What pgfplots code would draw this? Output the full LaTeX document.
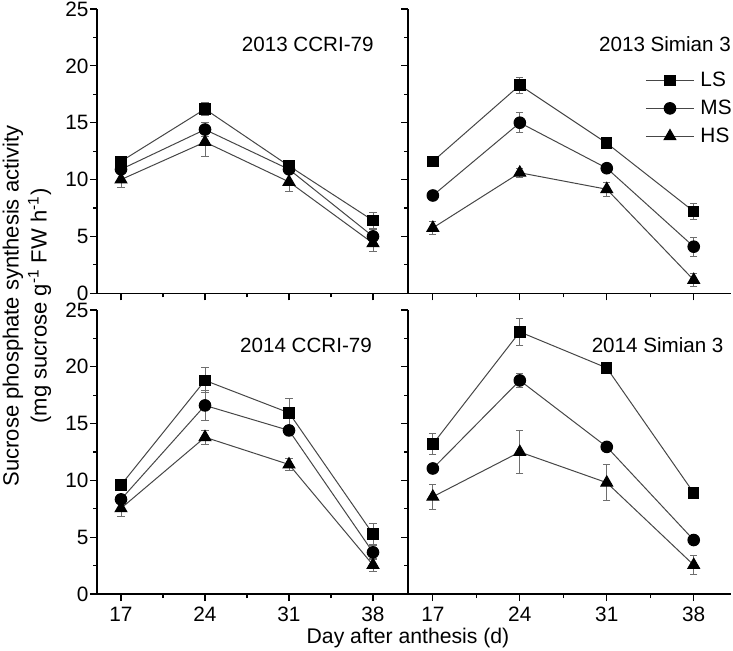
\documentclass[border=0pt]{standalone}
\usepackage{fontspec}
\setmainfont{Liberation Sans}
\usepackage{pgfplots}
\pgfplotsset{compat=1.18}

\definecolor{lnc}{RGB}{70,70,70}
\definecolor{ebc}{RGB}{110,110,110}

\pgfplotsset{
  panel/.style={
    scale only axis,
    xmin=15, xmax=41, ymin=0, ymax=25,
    axis x line=bottom, axis y line=left,
    axis line style={-, line width=0.7pt, black},
    tick align=outside,
    xtick={17,24,31,38}, minor xtick={20.5,27.5,34.5},
    ytick={0,5,10,15,20,25}, minor ytick={2.5,7.5,12.5,17.5,22.5},
    major tick length=3.5pt, minor tick length=2pt,
    every tick/.style={black, line width=0.6pt},
    tick label style={font=\fontsize{10.4}{12}\selectfont},
    /pgf/number format/assume math mode=true,
    yticklabel style={xshift=2.8pt},
    xticklabel style={yshift=0.5pt},
    clip=false,
    every axis plot/.append style={line width=0.5pt},
    legend image code/.code={\draw[mark repeat=2,mark phase=2] plot coordinates {(0pt,0pt)(12pt,0pt)(24pt,0pt)};},
  },
  ls/.style={lnc, mark=square*, mark size=2.6pt, mark options={fill=black, draw=black, solid}},
  ms/.style={lnc, mark=*, mark size=2.9pt, mark options={fill=black, draw=black, solid}},
  hs/.style={lnc, mark=triangle*, mark size=3.4pt, mark options={fill=black, draw=black, solid}},
  errb/.style={error bars/.cd, y dir=both, y explicit,
    error bar style={ebc, line width=0.5pt},
    error mark options={rotate=90, mark size=1.8pt, ebc, line width=0.5pt}},
}

\begin{document}
\begin{tikzpicture}[x=1pt,y=1pt]
\path[use as bounding box] (0,0) rectangle (366.5,-325.5);

% ---------- 2013 CCRI-79 ----------
\begin{axis}[panel, at={(48.5pt,-146.65pt)}, anchor=south west,
  width=156pt, height=142.15pt, xticklabels={}]
\addplot[ls, errb] table[x=x, y=y, y error=e] {
x y e
17 11.6 0.4
24 16.2 0.6
31 11.2 0.4
38 6.4 0.7
};
\addplot[ms, errb] table[x=x, y=y, y error=e] {
x y e
17 10.9 0.4
24 14.4 0.6
31 10.9 0.4
38 5.0 0.6
};
\addplot[hs, errb] table[x=x, y=y, y error=e] {
x y e
17 10.0 0.7
24 13.3 1.3
31 9.8 0.85
38 4.4 0.7
};
\end{axis}

% ---------- 2013 Simian 3 ----------
\begin{axis}[panel, at={(204pt,-146.65pt)}, anchor=south west,
  width=161.5pt, height=142.15pt, xticklabels={}, yticklabels={},
  legend style={at={(0.734,0.795)}, anchor=north west, draw=none, fill=none,
    inner sep=0pt, row sep=1.2pt, font=\fontsize{10.4}{12}\selectfont,
    nodes={inner xsep=3pt}},
  legend cell align=left]
\addplot[ls, errb] table[x=x, y=y, y error=e] {
x y e
17 11.6 0.3
24 18.3 0.7
31 13.2 0.3
38 7.2 0.7
};
\addplot[ms, errb] table[x=x, y=y, y error=e] {
x y e
17 8.6 0.3
24 15.0 0.9
31 11.0 0.3
38 4.1 0.85
};
\addplot[hs, errb] table[x=x, y=y, y error=e] {
x y e
17 5.75 0.6
24 10.6 0.4
31 9.15 0.6
38 1.17 0.6
};
\legend{LS,MS,HS}
\end{axis}

% ---------- 2014 CCRI-79 ----------
\begin{axis}[panel, at={(48.5pt,-297pt)}, anchor=south west,
  width=156pt, height=142pt]
\addplot[ls, errb] table[x=x, y=y, y error=e] {
x y e
17 9.6 0.3
24 18.8 1.1
31 15.95 1.3
38 5.28 0.9
};
\addplot[ms, errb] table[x=x, y=y, y error=e] {
x y e
17 8.33 0.4
24 16.6 1.3
31 14.4 0.4
38 3.67 0.6
};
\addplot[hs, errb] table[x=x, y=y, y error=e] {
x y e
17 7.54 0.7
24 13.8 0.6
31 11.4 0.5
38 2.55 0.6
};
\end{axis}

% ---------- 2014 Simian 3 ----------
\begin{axis}[panel, at={(204pt,-297pt)}, anchor=south west,
  width=161.5pt, height=142pt, yticklabels={}]
\addplot[ls, errb] table[x=x, y=y, y error=e] {
x y e
17 13.2 0.9
24 23.07 1.2
31 19.9 0.2
38 8.9 0.2
};
\addplot[ms, errb] table[x=x, y=y, y error=e] {
x y e
17 11.05 0.3
24 18.8 0.6
31 12.95 0.2
38 4.75 0.2
};
\addplot[hs, errb] table[x=x, y=y, y error=e] {
x y e
17 8.56 1.1
24 12.5 1.9
31 9.8 1.6
38 2.55 0.85
};
\end{axis}

% ---------- texts ----------
\node[font=\fontsize{10.3}{12}\selectfont] at (153.9,-22.2) {2013 CCRI-79};
\node[font=\fontsize{10.3}{12}\selectfont] at (332.5,-22.2) {2013 Simian 3};
\node[font=\fontsize{10.3}{12}\selectfont] at (153,-172.5) {2014 CCRI-79};
\node[font=\fontsize{10.3}{12}\selectfont] at (328.8,-172.5) {2014 Simian 3};
\node[font=\fontsize{10.6}{12}\selectfont, inner sep=1pt] at (204,-319) {Day after anthesis (d)};
\node[rotate=90, align=center, font=\fontsize{11}{14}\selectfont, inner sep=0pt] at (13.5,-153)
  {Sucrose phosphate synthesis activity\\(mg sucrose g\textsuperscript{-1} FW h\textsuperscript{-1})};
\end{tikzpicture}
\end{document}
